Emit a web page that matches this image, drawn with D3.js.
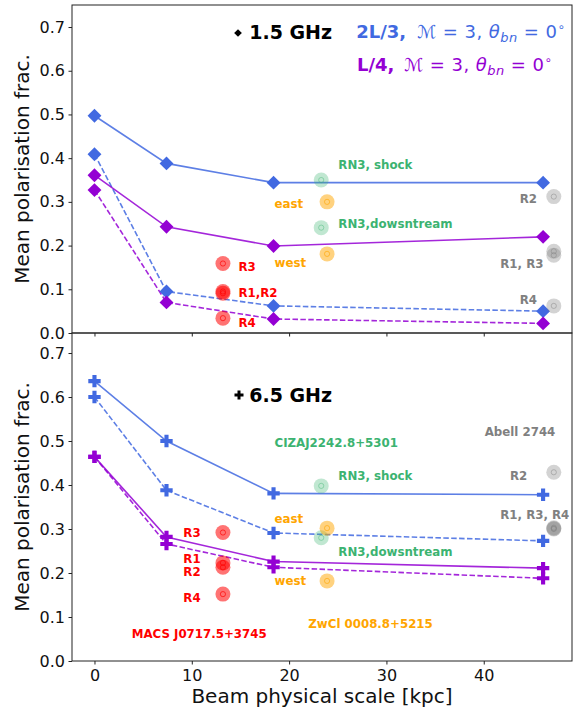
<!DOCTYPE html>
<html>
<head>
<meta charset="utf-8">
<script src="https://cdn.jsdelivr.net/npm/d3@7"></script>
<style>
  html, body { margin: 0; padding: 0; background: #fff; }
  svg { display: block; font-family: "DejaVu Sans", sans-serif; }
</style>
</head>
<body>
<svg id="chart" width="575" height="709"></svg>
<script>
// Beam physical scale (kpc) of the simulated smoothing steps
const beamScales = [0, 7.4, 18.4, 46.1];

// Simulated mean polarisation fraction, 1.5 GHz
const blueSolid15   = [0.497, 0.388, 0.344, 0.344];
const blueDashed15  = [0.409, 0.095, 0.062, 0.050];
const purpleSolid15 = [0.361, 0.243, 0.199, 0.220];
const purpleDashed15= [0.327, 0.070, 0.032, 0.022];

// Simulated mean polarisation fraction, 6.5 GHz
const blueSolid65   = [0.636, 0.500, 0.381, 0.378];
const blueDashed65  = [0.600, 0.388, 0.291, 0.273];
const purpleSolid65 = [0.464, 0.282, 0.226, 0.211];
const purpleDashed65= [0.464, 0.266, 0.213, 0.188];

// Observed relics: [beam kpc, polarisation fraction]
const macs15  = [[13.2, 0.159], [13.2, 0.095], [13.2, 0.091], [13.2, 0.034]];
const ciza15  = [[23.3, 0.350], [23.3, 0.241]];
const zwcl15  = [[23.9, 0.300], [23.9, 0.181]];
const abell15 = [[47.2, 0.312], [47.2, 0.187], [47.2, 0.178], [47.2, 0.062]];

const macs65  = [[13.2, 0.292], [13.2, 0.223], [13.2, 0.213], [13.2, 0.152]];
const ciza65  = [[23.3, 0.398], [23.3, 0.280]];
const zwcl65  = [[23.9, 0.302], [23.9, 0.182]];
const abell65 = [[47.2, 0.429], [47.2, 0.303], [47.2, 0.301], [47.2, 0.300]];

// Annotations: [text, x kpc, y frac, colour group]
const notes15 = [
  ["R3", 14.8, 0.1425, "red"], ["R1,R2", 14.8, 0.083, "red"], ["R4", 14.8, 0.013, "red"],
  ["east", 18.5, 0.285, "orange"], ["west", 18.5, 0.150, "orange"],
  ["RN3, shock", 25.06, 0.3746, "green"], ["RN3,dowsntream", 25.06, 0.2396, "green"],
  ["R2", 43.7, 0.298, "gray"], ["R1, R3", 41.7, 0.148, "gray"], ["R4", 43.7, 0.066, "gray"]
];
const notes65 = [
  ["CIZAJ2242.8+5301", 18.5, 0.486, "green"], ["Abell 2744", 40.1, 0.512, "gray"],
  ["RN3, shock", 25.06, 0.4107, "green"], ["R2", 42.7, 0.4107, "gray"],
  ["R1, R3, R4", 41.7, 0.322, "gray"], ["east", 18.5, 0.314, "orange"],
  ["RN3,dowsntream", 25.06, 0.2393, "green"], ["west", 18.5, 0.173, "orange"],
  ["R3", 9.13, 0.2825, "red"], ["R1", 9.13, 0.2234, "red"], ["R2", 9.13, 0.194, "red"],
  ["R4", 9.13, 0.135, "red"], ["MACS J0717.5+3745", 3.82, 0.053, "red"],
  ["ZwCl 0008.8+5215", 21.97, 0.0743, "orange"]
];

const yTicks = [0, 0.1, 0.2, 0.3, 0.4, 0.5, 0.6, 0.7];
const xTicks = [0, 10, 20, 30, 40];

const COL = {
  blue: "#4169e1", purple: "#9400d3",
  red: "#ff0000", green: "#3cb371", orange: "#ffa500", gray: "#808080"
};
const ALPHA = { red: 0.55, green: 0.32, orange: 0.5, gray: 0.35 };

const svg = d3.select("#chart");
const x = d3.scaleLinear().domain([-2.31, 49.07]).range([72, 572]);

function panel(opts) {
  const y = d3.scaleLinear().domain(opts.yDomain).range(opts.yRange);
  const g = svg.append("g");
  const line = d3.line().x((d, i) => x(beamScales[i])).y(d => y(d));

  // axis frame
  g.append("rect")
    .attr("x", x.range()[0]).attr("y", opts.yRange[1])
    .attr("width", x.range()[1] - x.range()[0])
    .attr("height", opts.yRange[0] - opts.yRange[1])
    .attr("fill", "none").attr("stroke", "#222").attr("stroke-width", 1);

  // y axis
  const ya = g.append("g").attr("transform", `translate(${x.range()[0]},0)`)
    .call(d3.axisLeft(y).tickValues(yTicks).tickFormat(d3.format(".1f")).tickSize(3.5).tickPadding(3.5));
  ya.select(".domain").remove();
  ya.selectAll("text").attr("font-size", 16).attr("fill", "#111").attr("font-family", "DejaVu Sans");
  ya.selectAll("line").attr("stroke", "#222");

  // x axis
  const xa = g.append("g").attr("transform", `translate(0,${opts.yRange[0]})`)
    .call(d3.axisBottom(x).tickValues(xTicks).tickSize(3.5).tickPadding(5)
      .tickFormat(opts.xLabels ? d3.format("d") : () => ""));
  xa.select(".domain").remove();
  xa.selectAll("text").attr("font-size", 16).attr("fill", "#111").attr("font-family", "DejaVu Sans");
  xa.selectAll("line").attr("stroke", "#222");

  // y label
  g.append("text")
    .attr("transform", `translate(29,${(opts.yRange[0] + opts.yRange[1]) / 2}) rotate(-90)`)
    .attr("text-anchor", "middle").attr("font-size", 20).attr("fill", "#111")
    .text("Mean polarisation frac.");

  // model lines
  const series = [
    [opts.blueSolid, COL.blue, null], [opts.blueDashed, COL.blue, "5.5,2.4"],
    [opts.purpleSolid, COL.purple, null], [opts.purpleDashed, COL.purple, "5.5,2.4"]
  ];
  series.forEach(([vals, c, dash]) => {
    g.append("path").datum(vals).attr("d", line)
      .attr("fill", "none").attr("stroke", c).attr("stroke-width", 1.6)
      .attr("stroke-opacity", 0.85).attr("stroke-dasharray", dash);
  });
  series.forEach(([vals, c]) => {
    g.selectAll(null).data(vals).enter().append("path")
      .attr("d", opts.symbol)
      .attr("transform", (d, i) => `translate(${x(beamScales[i])},${y(d)}) rotate(${opts.rot})`)
      .attr("fill", c);
  });

  // observed relics
  [[opts.macs, "red"], [opts.ciza, "green"], [opts.zwcl, "orange"], [opts.abell, "gray"]]
    .forEach(([pts, key]) => {
      const pg = g.append("g");
      pg.selectAll(null).data(pts).enter().append("circle")
        .attr("cx", d => x(d[0])).attr("cy", d => y(d[1])).attr("r", 7.5)
        .attr("fill", COL[key]).attr("fill-opacity", ALPHA[key]);
      pg.selectAll(null).data(pts).enter().append("circle")
        .attr("cx", d => x(d[0])).attr("cy", d => y(d[1])).attr("r", 2.6)
        .attr("fill", "none").attr("stroke", COL[key]).attr("stroke-opacity", ALPHA[key] + 0.1)
        .attr("stroke-width", 1);
    });

  // annotations
  g.selectAll(null).data(opts.notes).enter().append("text")
    .attr("x", d => x(d[1])).attr("y", d => y(d[2]))
    .attr("font-size", 11.8).attr("font-weight", "bold")
    .attr("fill", d => COL[d[3]])
    .text(d => d[0]);

  return { g, y };
}

const topPanel = panel({
  yDomain: [0, 0.7504], yRange: [333, 5], xLabels: false,
  blueSolid: blueSolid15, blueDashed: blueDashed15,
  purpleSolid: purpleSolid15, purpleDashed: purpleDashed15,
  symbol: d3.symbol(d3.symbolSquare, 96)(), rot: 45,
  macs: macs15, ciza: ciza15, zwcl: zwcl15, abell: abell15, notes: notes15
});

const bottomPanel = panel({
  yDomain: [0, 0.7455], yRange: [661, 333], xLabels: true,
  blueSolid: blueSolid65, blueDashed: blueDashed65,
  purpleSolid: purpleSolid65, purpleDashed: purpleDashed65,
  symbol: d3.symbol(d3.symbolCross, 85)(), rot: 0,
  macs: macs65, ciza: ciza65, zwcl: zwcl65, abell: abell65, notes: notes65
});

// x label
svg.append("text").attr("x", 322).attr("y", 703).attr("text-anchor", "middle")
  .attr("font-size", 20).attr("fill", "#111").text("Beam physical scale [kpc]");

// frequency keys
topPanel.g.append("path").attr("d", d3.symbol(d3.symbolSquare, 30)())
  .attr("transform", `translate(238,33) rotate(45)`).attr("fill", "#000");
topPanel.g.append("text").attr("x", x(15.9)).attr("y", topPanel.y(0.672))
  .attr("font-size", 19).attr("font-weight", "bold").attr("fill", "#000").text("1.5 GHz");
bottomPanel.g.append("path").attr("d", d3.symbol(d3.symbolCross, 45)())
  .attr("transform", `translate(239,395)`).attr("fill", "#000");
bottomPanel.g.append("text").attr("x", x(15.9)).attr("y", bottomPanel.y(0.589))
  .attr("font-size", 19).attr("font-weight", "bold").attr("fill", "#000").text("6.5 GHz");

// model keys: bold run label, then the shock parameters
function modelKey(label, colour, xv, mathX, yv) {
  const yy = topPanel.y(yv);
  topPanel.g.append("text").attr("x", x(xv)).attr("y", yy)
    .attr("font-size", 18).attr("font-weight", "bold").attr("fill", colour).text(label);
  const t = topPanel.g.append("text").attr("x", mathX).attr("y", yy)
    .attr("font-size", 18).attr("fill", colour)
    .attr("textLength", 148).attr("lengthAdjust", "spacing");
  t.append("tspan").text("ℳ = 3, ");
  t.append("tspan").attr("font-style", "italic").text("θ");
  t.append("tspan").attr("font-style", "italic").attr("font-size", 13).attr("dy", 4).text("bn");
  t.append("tspan").attr("dy", -4).text(" = 0");
  t.append("tspan").attr("font-size", 12).attr("dy", -7).text("∘");
}
modelKey("2L/3,", COL.blue, 26.9, 417, 0.674);
modelKey("L/4,", COL.purple, 26.97, 404, 0.5995);
</script>
</body>
</html>
